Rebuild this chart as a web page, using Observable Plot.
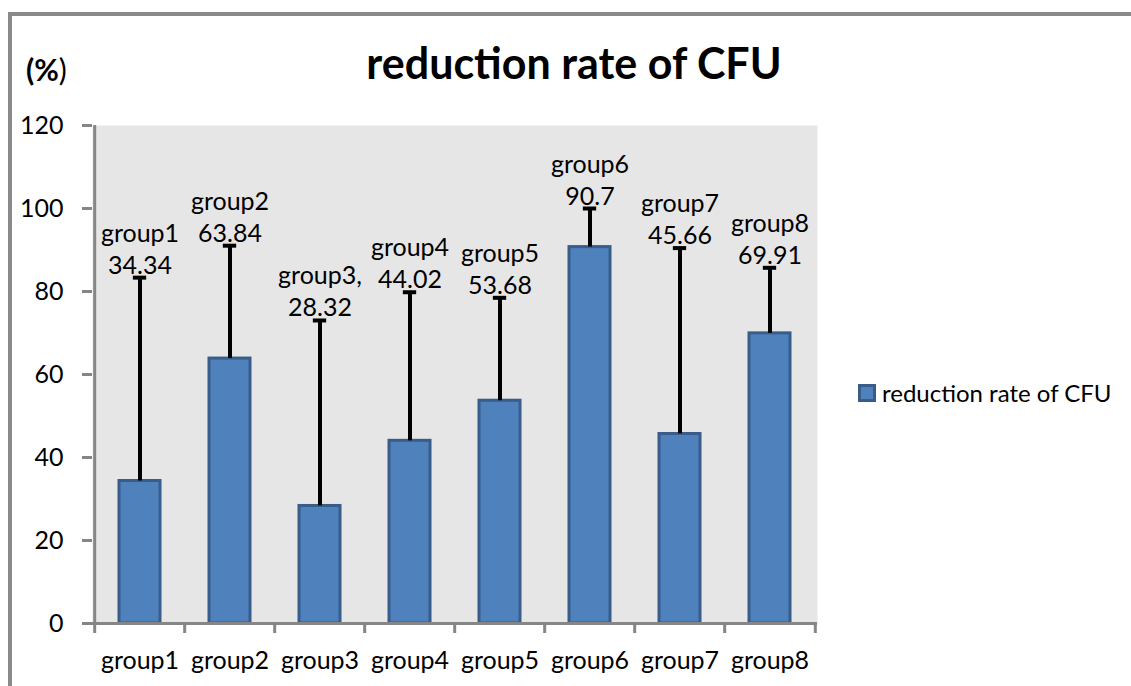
<!DOCTYPE html>
<html><head><meta charset="utf-8">
<script src="https://cdn.jsdelivr.net/npm/d3@7"></script>
<script src="https://cdn.jsdelivr.net/npm/@observablehq/plot@0.6"></script>
<style>
body{margin:0;background:#fff;}
#wrap{position:relative;width:1131px;height:686px;overflow:hidden;font-family:Lato,sans-serif;color:#000;}
#border{position:absolute;left:8px;top:12px;width:1200px;height:800px;border-top:4px solid #8a8a8a;border-left:4px solid #8a8a8a;}
#chart{position:absolute;left:0;top:0;}
#title{position:absolute;left:574px;top:41px;transform:translateX(-50%);font-weight:bold;font-size:43px;white-space:nowrap;line-height:1;}
#unit{position:absolute;left:26px;top:54px;font-size:30px;line-height:1;white-space:nowrap;}
#legend{position:absolute;left:858px;top:380px;display:flex;align-items:center;font-size:24px;line-height:26px;white-space:nowrap;}
.sw{width:18px;height:18px;box-sizing:border-box;background:#4F81BD;border:3px solid #385D8A;margin-right:6px;}
</style></head>
<body><div id="wrap"><div id="border"></div><div id="chart"></div>
<div id="title"></div><div id="unit"><b>(%</b>)</div>
<div id="legend"><div class="sw"></div><span id="legtext"></span></div></div>
<script>
const groups = ["group1","group2","group3","group4","group5","group6","group7","group8"];
const labelNames = ["group1","group2","group3,","group4","group5","group6","group7","group8"];
const values = [34.34, 63.84, 28.32, 44.02, 53.68, 90.7, 45.66, 69.91];
const errors = [49.0, 27.2, 44.7, 35.8, 24.8, 9.3, 44.8, 15.8];
const yTicks = [0, 20, 40, 60, 80, 100, 120];
const seriesName = "reduction rate of CFU";
const titleText = "reduction rate of CFU";

document.getElementById("title").textContent = titleText;
document.getElementById("legtext").textContent = seriesName;

const data = groups.map((g, i) => ({group: g, label: labelNames[i] + "\n" + values[i], value: values[i], top: values[i] + errors[i]}));
const W = 1131, H = 686, mL = 92, mR = 314, mT = 125, mB = 63;
const step = (W - mL - mR) / groups.length, half = step / 2;
const padIn = 0.54, bw = step * (1 - padIn);
const capW = 14;
const axisColor = "#868686";

const chart = Plot.plot({
  width: W, height: H, marginLeft: mL, marginRight: mR, marginTop: mT, marginBottom: mB,
  style: {fontFamily: "Lato, sans-serif", fontSize: "25px", background: "transparent", overflow: "visible", color: "#000"},
  x: {domain: groups, paddingInner: padIn, paddingOuter: padIn / 2, label: null},
  y: {domain: [0, 120], label: null},
  marks: [
    Plot.frame({fill: "#e6e6e6", stroke: null}),
    Plot.barY(data, {x: "group", y: "value", fill: "#4F81BD", stroke: "#385D8A", strokeWidth: 3}),
    Plot.ruleX(data, {x: "group", y1: "value", y2: "top", stroke: "#000", strokeWidth: 4}),
    Plot.tickY(data, {x: "group", y: "top", stroke: "#000", strokeWidth: 4, insetLeft: (bw - capW) / 2, insetRight: (bw - capW) / 2}),
    Plot.text(data, {x: "group", y: "top", text: "label", lineAnchor: "bottom", dy: -4, fontSize: 25, lineHeight: 1.28, fill: "#000"}),
    Plot.ruleY([0], {stroke: axisColor, strokeWidth: 3}),
    Plot.ruleX([groups[0]], {dx: -half, stroke: axisColor, strokeWidth: 3}),
    Plot.axisY({ticks: yTicks, tickSize: 10, tickPadding: 19, stroke: axisColor, strokeWidth: 3, fontSize: 25, fill: "#000"}),
    Plot.axisX({tickSize: 10, dx: -half, tickFormat: () => "", stroke: axisColor, strokeWidth: 3}),
    Plot.axisX({ticks: [groups[groups.length - 1]], tickSize: 10, dx: half, tickFormat: () => "", stroke: axisColor, strokeWidth: 3}),
    Plot.axisX({tickSize: 0, tickPadding: 28, fontSize: 25, fill: "#000"})
  ]
});
document.getElementById("chart").appendChild(chart);
</script>
</body></html>
